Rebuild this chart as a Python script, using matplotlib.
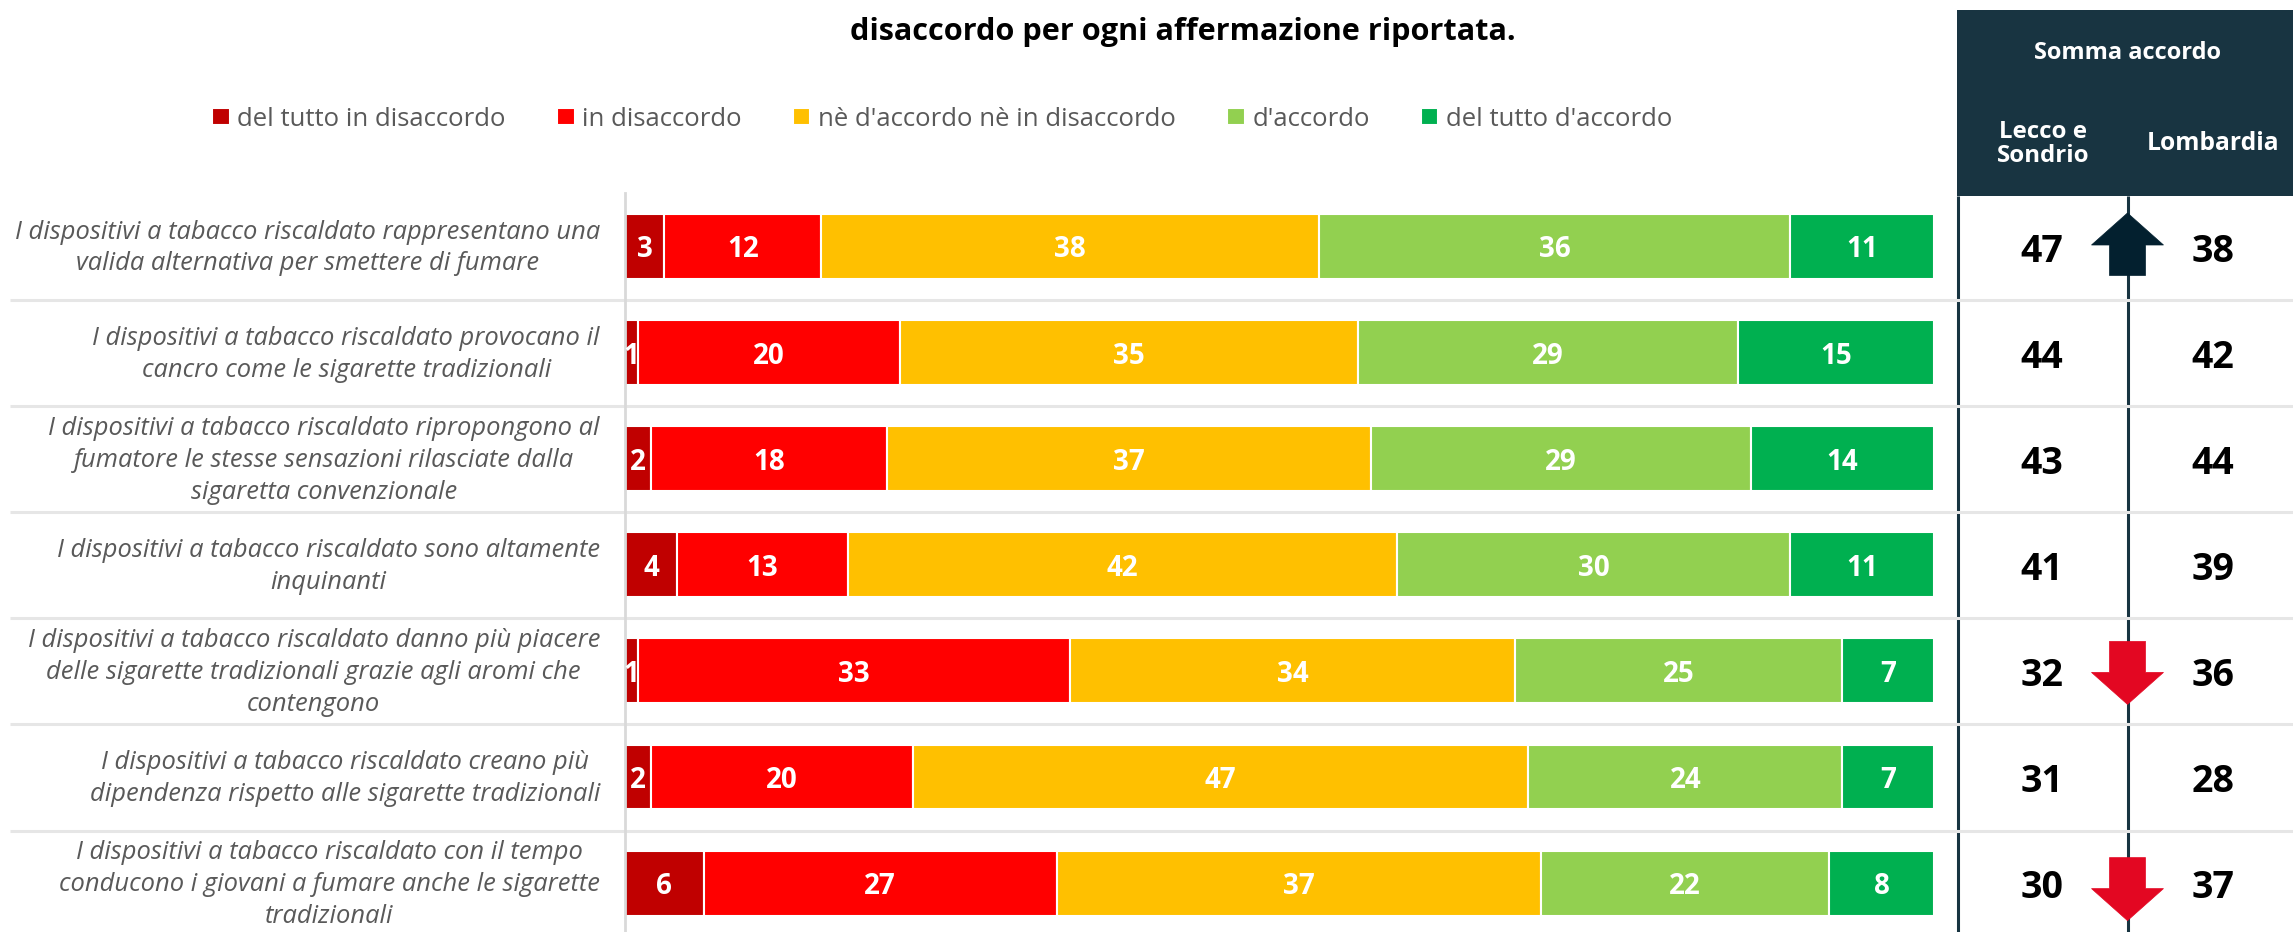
import matplotlib
matplotlib.use("Agg")
import matplotlib.pyplot as plt
from matplotlib.patches import Polygon, Rectangle

W, H = 2293, 932

statements = [
    "I dispositivi a tabacco riscaldato rappresentano una\nvalida alternativa per smettere di fumare",
    "I dispositivi a tabacco riscaldato provocano il\ncancro come le sigarette tradizionali",
    "I dispositivi a tabacco riscaldato ripropongono al\nfumatore le stesse sensazioni rilasciate dalla\nsigaretta convenzionale",
    "I dispositivi a tabacco riscaldato sono altamente\ninquinanti",
    "I dispositivi a tabacco riscaldato danno più piacere\ndelle sigarette tradizionali grazie agli aromi che\ncontengono",
    "I dispositivi a tabacco riscaldato creano più\ndipendenza rispetto alle sigarette tradizionali",
    "I dispositivi a tabacco riscaldato con il tempo\nconducono i giovani a fumare anche le sigarette\ntradizionali",
]
levels = ["del tutto in disaccordo", "in disaccordo", "nè d'accordo nè in disaccordo",
          "d'accordo", "del tutto d'accordo"]
colors = ["#c00000", "#ff0000", "#ffc000", "#92d050", "#00b050"]

del_tutto_dis = [3, 1, 2, 4, 1, 2, 6]
in_dis = [12, 20, 18, 13, 33, 20, 27]
neutro = [38, 35, 37, 42, 34, 47, 37]
accordo = [36, 29, 29, 30, 25, 24, 22]
del_tutto_acc = [11, 15, 14, 11, 7, 7, 8]
series = [del_tutto_dis, in_dis, neutro, accordo, del_tutto_acc]

lecco = [47, 44, 43, 41, 32, 31, 30]
lombardia = [38, 42, 44, 39, 36, 28, 37]
# 1 = significantly above the region, -1 = below, 0 = no arrow
trend = [1, 0, 0, 0, -1, 0, -1]

FONT = "Open Sans"
GREY = "#595959"
DARK = "#183441"

fig = plt.figure(figsize=(W / 100, H / 100), dpi=100, facecolor="white")

# pixel overlay for the table on the right and the separators
ov = fig.add_axes([0, 0, 1, 1], zorder=1)
ov.set_xlim(0, W)
ov.set_ylim(H, 0)
ov.axis("off")

ax = fig.add_axes([625 / W, 0, (1934 - 625) / W, (H - 193) / H], zorder=2)
ax.patch.set_alpha(0)
pitch = 106.1
ax.set_xlim(0, 100)
ax.set_ylim((H - 246.5) / pitch, (193 - 246.5) / pitch)

rows = list(range(len(statements)))
left = [0] * len(rows)
handles = []
for vals, col, name in zip(series, colors, levels):
    bars = ax.barh(rows, vals, left=left, height=0.612, color=col, edgecolor="white",
                   linewidth=1.5, label=name)
    handles.append(bars)
    labs = ax.bar_label(bars, labels=[str(v) for v in vals], label_type="center", color="white",
                        fontsize=20, fontweight="bold", family=FONT)
    for t in labs:
        t.xyann = (0, -2.5)
    left = [a + b for a, b in zip(left, vals)]

ax.set_xticks([])
ax.set_yticks([])
for s in ["top", "right", "bottom"]:
    ax.spines[s].set_visible(False)
ax.spines["left"].set_color("#d9d9d9")
ax.spines["left"].set_linewidth(2)

row_y = [246.5 + pitch * r for r in rows]
x_lecco, x_lomb, x_mid = 2042, 2213, 2127.5

# header block
ov.add_patch(Rectangle((1957, 10), W - 1957, 186, color=DARK, lw=0))
ov.plot([1957.5, 1957.5], [196, H], color=DARK, lw=2.2, solid_capstyle="butt")
ov.plot([x_mid, x_mid], [196, H], color=DARK, lw=2.2, solid_capstyle="butt")
ov.text(x_mid, 53, "Somma accordo", color="white", fontsize=17, fontweight="bold",
        family=FONT, ha="center", va="center")
ov.text(x_lecco + 1, 144, "Lecco e\nSondrio", color="white", fontsize=17.3, fontweight="bold",
        family=FONT, ha="center", va="center", linespacing=0.95)
ov.text(x_lomb, 144, "Lombardia", color="white", fontsize=17.7, fontweight="bold",
        family=FONT, ha="center", va="center")

# row separators sit on top of the vertical lines
for r in rows[:-1]:
    ov.plot([10, W], [row_y[r] + 53.5] * 2, color="#e6e6e6", lw=2.2, solid_capstyle="butt")

for r, y, txt, a, b, t in zip(rows, row_y, statements, lecco, lombardia, trend):
    ov.text(600, y + 1.5, txt, color=GREY, fontsize=18.4, style="italic", family=FONT,
            ha="right", va="center", multialignment="center", linespacing=1.36)
    ov.text(x_lecco, y + 5, str(a), color="black", fontsize=27, fontweight="bold",
            family=FONT, ha="center", va="center")
    ov.text(x_lomb, y + 5, str(b), color="black", fontsize=27, fontweight="bold",
            family=FONT, ha="center", va="center")
    if t > 0:
        tip, base, end = y - 33.5, y - 1.5, y + 29
    elif t < 0:
        shift = 4 if r == 6 else 0
        tip, base, end = y + 33.5 + shift, y + 1.5 + shift, y - 29.5 + shift
    if t:
        c = "#03202f" if t > 0 else "#e30722"
        ov.add_patch(Polygon([(x_mid, tip), (x_mid + 36, base), (x_mid + 18, base),
                              (x_mid + 18, end), (x_mid - 18, end), (x_mid - 18, base),
                              (x_mid - 36, base)], closed=True, facecolor=c, edgecolor=c,
                             lw=0.5, zorder=5))

ov.text(1183, 32, "disaccordo per ogni affermazione riportata.", color="black", fontsize=22.1,
        fontweight="bold", family=FONT, ha="center", va="center")

fig.legend(handles=handles, loc="center left", bbox_to_anchor=(212 / W, 1 - 119 / H), ncol=5,
           frameon=False, labelcolor=GREY, prop={"family": FONT, "size": 18.5},
           handlelength=0.69, handleheight=0.69, handletextpad=0.3, columnspacing=1.98,
           borderpad=0, borderaxespad=0)

fig.savefig("out.png", dpi=100)
